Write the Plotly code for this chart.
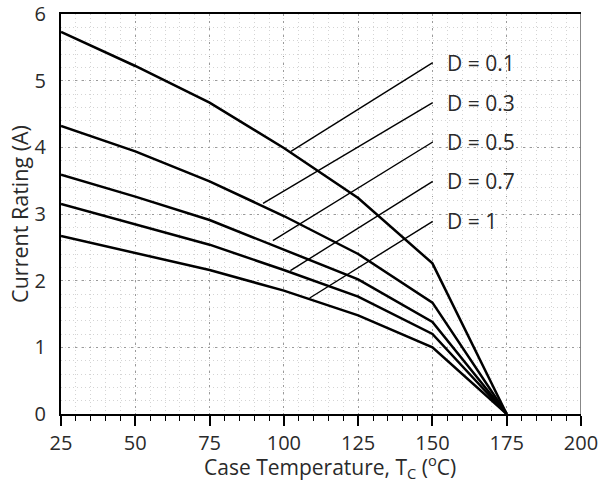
import plotly.graph_objects as go

temps = [25, 50, 75, 100, 125, 150, 175]
duty_labels = ["D = 0.1", "D = 0.3", "D = 0.5", "D = 0.7", "D = 1"]
i_d01 = [5.73, 5.22, 4.67, 3.99, 3.24, 2.26, 0]
i_d03 = [4.32, 3.94, 3.49, 2.97, 2.40, 1.67, 0]
i_d05 = [3.59, 3.26, 2.91, 2.46, 2.02, 1.38, 0]
i_d07 = [3.15, 2.84, 2.54, 2.16, 1.76, 1.20, 0]
i_d1 = [2.67, 2.41, 2.16, 1.85, 1.48, 1.00, 0]
series = [i_d01, i_d03, i_d05, i_d07, i_d1]

# leader lines: start on curve -> end near label
leader_x0 = [102.4, 93.0, 96.3, 102.2, 108.7]
leader_y0 = [3.94, 3.16, 2.60, 2.15, 1.74]
leader_x1 = [150.1, 150.1, 150.1, 150.1, 150.1]
leader_y1 = [5.27, 4.67, 4.08, 3.49, 2.89]

xticks = [25, 50, 75, 100, 125, 150, 175, 200]
yticks = [0, 1, 2, 3, 4, 5, 6]

x_title = "Case Temperature, T<sub>C</sub> (<sup>o</sup>C)"
y_title = "Current Rating (A)"

font_family = "Open Sans, Segoe UI, DejaVu Sans, sans-serif"
fs = 21
tfs = 20
txt_color = "#2a2a2a"

fig = go.Figure()
for s in series:
    fig.add_trace(go.Scatter(x=temps, y=s, mode="lines",
                             line=dict(color="black", width=2.5),
                             showlegend=False, hoverinfo="skip"))
for i in range(len(duty_labels)):
    fig.add_trace(go.Scatter(x=[leader_x0[i], leader_x1[i]],
                             y=[leader_y0[i], leader_y1[i]], mode="lines",
                             line=dict(color="black", width=1.4),
                             showlegend=False, hoverinfo="skip"))
    fig.add_annotation(x=leader_x1[i] + 4.0, y=leader_y1[i], text=duty_labels[i],
                       xanchor="left", yanchor="middle", showarrow=False,
                       font=dict(size=fs, color=txt_color, family=font_family))

# axis titles placed as annotations
fig.add_annotation(x=0.517, y=-0.131, xref="paper", yref="paper", text=x_title,
                   xanchor="center", yanchor="middle", showarrow=False,
                   font=dict(size=21, color=txt_color, family=font_family))
fig.add_annotation(x=-0.081, y=0.5, xref="paper", yref="paper", text=y_title,
                   xanchor="center", yanchor="middle", showarrow=False, textangle=-90,
                   font=dict(size=21.5, color=txt_color, family=font_family))

fig.add_shape(type="line", xref="x", yref="y", x0=200, x1=200, y0=0, y1=6,
              line=dict(color="#7a7a7a", width=1.8), layer="above")

fig.update_layout(
    width=602, height=482,
    margin=dict(l=61, r=21, t=14, b=68),
    plot_bgcolor="white", paper_bgcolor="white",
    font=dict(family=font_family, size=fs, color=txt_color),
    xaxis=dict(range=[25, 200], tickvals=xticks, ticks="outside", ticklen=10,
               tickwidth=1.5, tickcolor="black", automargin=False,
               ticklabeloverflow="allow",
               showline=True, linecolor="black", linewidth=2, mirror=True,
               showgrid=True, gridcolor="#9a9a9a", gridwidth=1.2, griddash="1.5px,5.5px",
               minor=dict(dtick=5, ticks="outside", ticklen=5, tickwidth=1.2,
                          tickcolor="black", showgrid=True, gridcolor="#d4d4d4",
                          gridwidth=1, griddash="1px,3px"),
               zeroline=False,
               tickfont=dict(size=tfs)),
    yaxis=dict(range=[0, 6], tickvals=yticks, ticks="outside", ticklen=9,
               tickcolor="rgba(0,0,0,0)", automargin=False,
               ticklabeloverflow="allow",
               showline=True, linecolor="black", linewidth=2,
               showgrid=True, gridcolor="#9a9a9a", gridwidth=1.2, griddash="1.5px,5.5px",
               minor=dict(dtick=0.2, showgrid=True, gridcolor="#d4d4d4",
                          gridwidth=1, griddash="1px,3px"),
               zeroline=False,
               tickfont=dict(size=tfs)),
)

fig.write_html("out.html")
